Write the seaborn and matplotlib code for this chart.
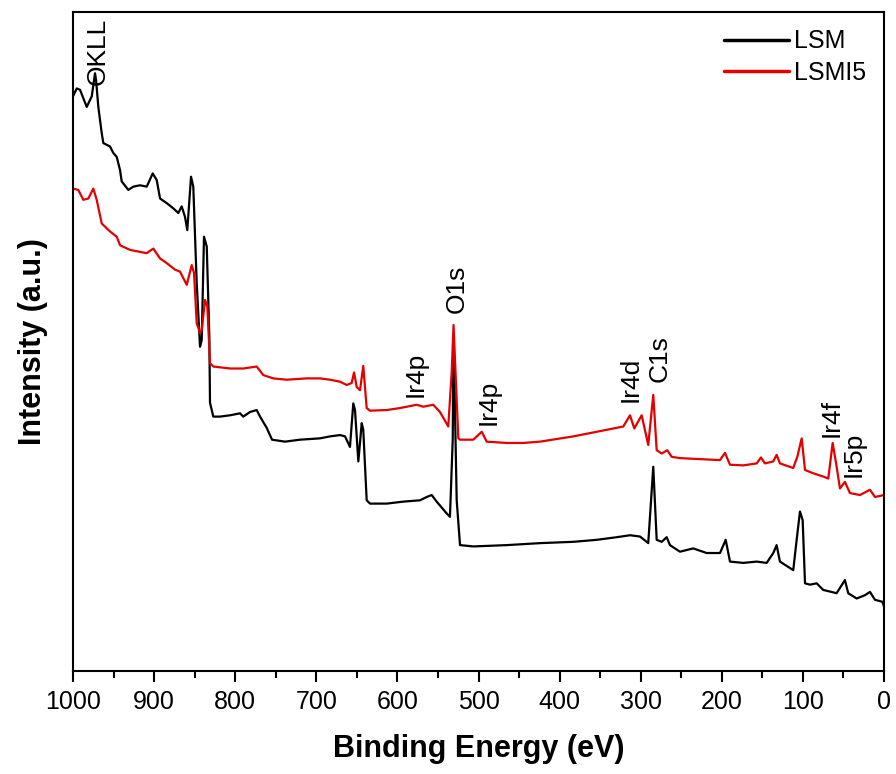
import matplotlib
matplotlib.use("Agg")
import matplotlib.pyplot as plt
import pandas as pd
import seaborn as sns
from matplotlib.ticker import MultipleLocator

# ====== DATA ======
LSM_ENERGY = [
    1000, 995.4, 991.4, 983.1, 976.9, 972.9, 971.6, 968.8, 964.6, 962.6,
    954.4, 950.3, 946.1, 942.0, 940.0, 931.8, 925.6, 917.4, 909.1, 901.7,
    896.8, 892.7, 884.5, 876.3, 870.2, 866.0, 861.9, 859.1, 854.5, 851.7,
    847.5, 843.4, 841.3, 838.5, 835.1, 831.9, 831.1, 827.0, 818.7, 806.4,
    794.1, 790.0, 781.8, 773.5, 769.4, 761.2, 754.6, 738.6, 720.1, 695.5,
    683.1, 670.8, 664.6, 658.5, 654.4, 652.3, 648.2, 644.0, 642.1, 637.9,
    633.8, 613.2, 592.7, 572.2, 563.9, 557.7, 551.6, 539.2, 535.2, 531.8,
    530.8, 526.9, 522.8, 506.4, 465.2, 424.2, 383.1, 354.3, 329.6, 313.2,
    300.8, 290.7, 284.5, 280.3, 274.1, 268.0, 263.9, 251.6, 235.2, 218.7,
    202.2, 195.2, 189.9, 173.5, 157.0, 144.7, 136.5, 132.4, 128.3, 111.9,
    107.7, 103.6, 100.3, 97.4, 91.3, 83.0, 74.9, 58.4, 48.2, 44.1,
    33.7, 23.5, 17.3, 11.1, 2.0, 0,
]
LSM_INTENSITY = [
    87.2, 88.4, 88.2, 85.6, 87.2, 90.7, 89.7, 85.6, 81.6, 80.1,
    79.6, 78.6, 78.0, 76.0, 74.3, 73.0, 73.5, 73.7, 73.5, 75.5,
    74.5, 71.7, 71.0, 70.2, 69.5, 70.5, 68.9, 66.9, 75.0, 73.5,
    58.9, 49.2, 50.2, 65.9, 64.4, 50.7, 40.7, 38.6, 38.6, 38.8,
    39.1, 38.6, 39.3, 39.6, 38.6, 36.9, 35.1, 34.8, 35.1, 35.3,
    35.6, 35.8, 35.6, 34.0, 40.6, 39.6, 31.8, 37.6, 36.6, 25.9,
    25.4, 25.4, 25.7, 25.9, 26.4, 26.7, 25.7, 23.9, 23.4, 35.1,
    51.0, 25.9, 19.1, 18.9, 19.1, 19.4, 19.6, 19.9, 20.3, 20.6,
    20.4, 19.4, 31.0, 19.9, 19.6, 20.3, 19.1, 18.1, 18.6, 17.9,
    17.9, 19.9, 16.6, 16.4, 16.6, 16.4, 17.9, 19.1, 16.6, 15.3,
    19.9, 24.2, 22.9, 13.3, 13.1, 13.3, 12.3, 11.8, 13.8, 11.8,
    11.0, 11.5, 12.0, 10.8, 10.5, 9.8,
]

LSMI5_ENERGY = [
    1000, 993.5, 987.3, 981.1, 975.0, 970.8, 964.6, 954.4, 946.1, 942.0,
    929.7, 917.4, 909.1, 901.0, 892.7, 884.5, 874.2, 868.1, 859.8, 853.6,
    850.8, 847.5, 843.4, 841.3, 837.2, 834.4, 831.1, 827.0, 806.4, 790.0,
    773.5, 765.4, 753.0, 736.5, 711.8, 695.5, 683.1, 670.8, 662.5, 656.4,
    653.5, 650.2, 646.1, 642.1, 637.9, 633.8, 613.2, 596.8, 576.2, 568.1,
    555.8, 547.5, 537.3, 533.1, 530.8, 526.9, 524.9, 522.8, 506.4, 496.0,
    489.9, 465.2, 444.8, 424.2, 403.6, 383.1, 362.5, 341.9, 321.5, 313.2,
    307.9, 298.8, 290.7, 284.5, 280.3, 274.1, 267.3, 261.8, 251.6, 235.2,
    218.7, 202.2, 196.1, 189.9, 173.5, 157.0, 151.7, 146.8, 136.5, 132.4,
    128.3, 111.9, 106.9, 101.5, 97.4, 87.2, 74.9, 68.7, 63.3, 58.4,
    54.3, 48.2, 42.0, 29.6, 17.3, 11.1, 0,
]
LSMI5_INTENSITY = [
    73.2, 73.0, 71.5, 71.7, 73.2, 71.5, 67.9, 66.7, 65.9, 64.6,
    63.9, 63.6, 63.4, 64.1, 62.6, 61.9, 60.9, 60.6, 58.6, 61.6,
    60.4, 52.8, 51.3, 51.7, 56.3, 55.3, 46.7, 46.2, 45.9, 45.9,
    46.2, 44.9, 44.4, 44.2, 44.4, 44.4, 44.2, 43.9, 43.4, 43.7,
    45.3, 43.1, 42.6, 46.3, 39.9, 39.5, 39.6, 39.9, 40.4, 40.1,
    40.4, 39.3, 37.1, 45.2, 52.5, 41.1, 35.3, 35.1, 35.1, 36.3,
    34.8, 34.6, 34.6, 34.8, 35.2, 35.6, 36.1, 36.6, 37.1, 38.8,
    36.8, 38.8, 34.3, 41.9, 33.5, 33.0, 33.5, 32.5, 32.3, 32.2,
    32.1, 32.0, 33.1, 31.3, 31.2, 31.5, 32.4, 31.5, 31.8, 32.8,
    31.5, 30.8, 32.5, 35.3, 30.5, 30.0, 29.5, 29.2, 34.6, 31.0,
    27.7, 28.7, 27.0, 26.7, 27.5, 26.4, 26.7,
]

# peak labels: text, energy, intensity at the foot of the label
PEAK_LABELS = ["OKLL", "Ir4p", "O1s", "Ir4p", "Ir4d", "C1s", "Ir4f", "Ir5p"]
PEAK_ENERGY = [970, 577, 527, 488, 312, 277, 64, 38]
PEAK_LEVEL = [88.9, 41.6, 54.3, 37.3, 40.8, 43.9, 35.5, 29.4]

SERIES_NAMES = ["LSM", "LSMI5"]
COLORS = {"LSM": "black", "LSMI5": "#e30000"}
# ===========================================================


def build_frame():
    lsm = pd.DataFrame({"energy": LSM_ENERGY, "intensity": LSM_INTENSITY, "sample": "LSM"})
    lsmi5 = pd.DataFrame({"energy": LSMI5_ENERGY, "intensity": LSMI5_INTENSITY, "sample": "LSMI5"})
    return pd.concat([lsm, lsmi5], ignore_index=True)


def main():
    sns.set_style("ticks")
    plt.rcParams["font.family"] = ["Liberation Sans", "DejaVu Sans"]
    plt.rcParams["text.color"] = "black"
    plt.rcParams["axes.labelcolor"] = "black"
    plt.rcParams["xtick.color"] = "black"
    plt.rcParams["ytick.color"] = "black"

    data = build_frame()

    fig = plt.figure(figsize=(8.96, 7.74), dpi=100)
    ax = fig.add_axes([0.0815, 0.1331, 0.9051, 0.8514])

    sns.lineplot(
        data=data, x="energy", y="intensity", hue="sample",
        hue_order=SERIES_NAMES, palette=COLORS,
        estimator=None, sort=False, linewidth=1.6, ax=ax,
    )

    for label, e, lvl in zip(PEAK_LABELS, PEAK_ENERGY, PEAK_LEVEL):
        ax.text(e, lvl, label, rotation=90, ha="center", va="bottom",
                fontsize=19, color="black")

    ax.set_xlim(1000, 0)
    ax.set_ylim(0, 100)
    ax.xaxis.set_major_locator(MultipleLocator(100))
    ax.xaxis.set_minor_locator(MultipleLocator(50))
    ax.set_yticks([])

    ax.tick_params(axis="x", which="major", direction="out", length=8, width=1.5,
                   labelsize=18, pad=6, colors="black")
    ax.tick_params(axis="x", which="minor", direction="out", length=5, width=1.5,
                   colors="black")
    for spine in ax.spines.values():
        spine.set_visible(True)
        spine.set_linewidth(1.5)
        spine.set_color("black")

    ax.set_xlabel("Binding Energy (eV)", fontsize=22, fontweight="bold", labelpad=14)
    ax.set_ylabel("Intensity (a.u.)", fontsize=22, fontweight="bold", labelpad=18)

    leg = ax.legend(loc="upper right", frameon=False, fontsize=18, handlelength=2.6,
                    labelspacing=0.3, borderaxespad=0.3, handletextpad=0.2)
    for line in leg.get_lines():
        line.set_linewidth(2.5)
    for text in leg.get_texts():
        text.set_color("black")

    fig.savefig("out.png", dpi=100)
    plt.close(fig)


if __name__ == "__main__":
    main()
